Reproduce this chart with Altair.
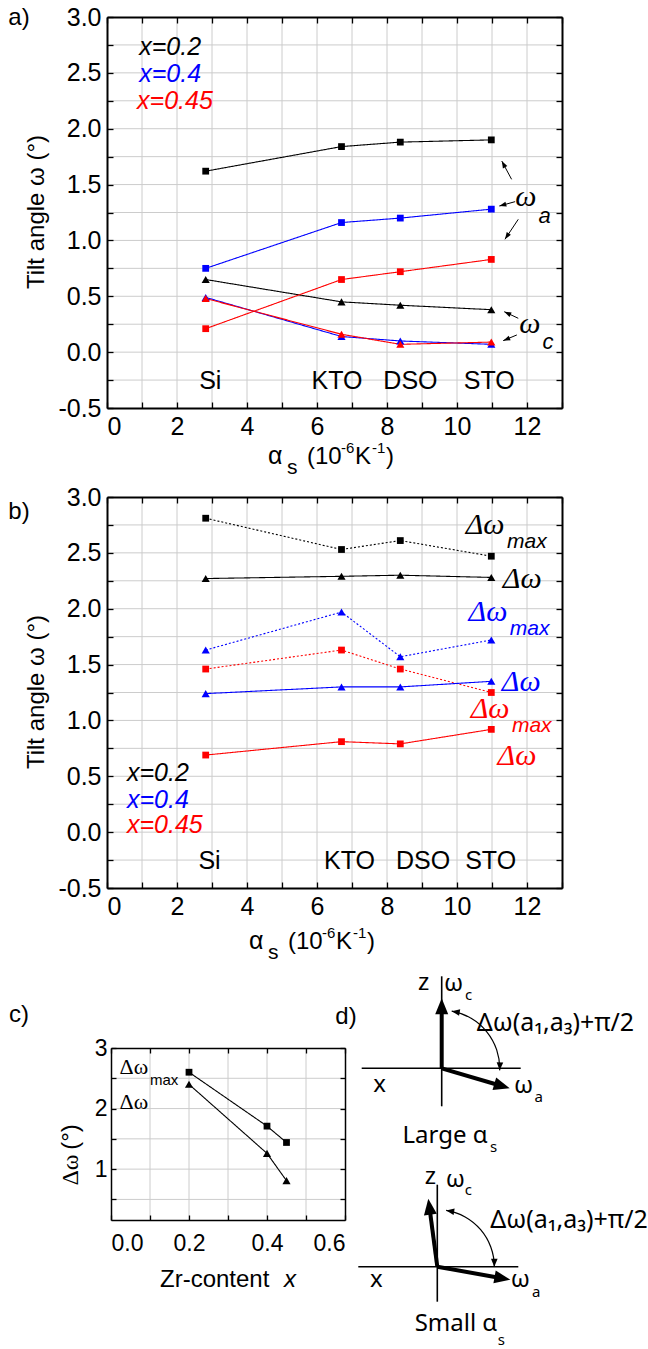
import math
import altair as alt
import pandas as pd

W, H = 648, 1349

# ---------------- data ----------------
substrates = ["Si", "KTO", "DSO", "STO"]
alpha_s = [2.82, 6.70, 8.38, 10.98]
compositions = ["x=0.2", "x=0.4", "x=0.45"]
comp_colors = ["#000000", "#0000ff", "#ff0000"]

# (a) tilt angles omega_a (squares) and omega_c (triangles)
omega_a_020 = [1.62, 1.84, 1.88, 1.90]
omega_a_040 = [0.75, 1.16, 1.20, 1.28]
omega_a_045 = [0.21, 0.65, 0.72, 0.83]
omega_c_020 = [0.65, 0.45, 0.42, 0.38]
omega_c_040 = [0.49, 0.14, 0.10, 0.07]
omega_c_045 = [0.48, 0.16, 0.07, 0.09]

# (b) delta omega max (dotted) and delta omega (solid)
dwmax_020 = [2.81, 2.53, 2.61, 2.47]
dw_020 = [2.27, 2.29, 2.30, 2.28]
dwmax_040 = [1.63, 1.97, 1.57, 1.72]
dw_040 = [1.24, 1.30, 1.30, 1.35]
dwmax_045 = [1.46, 1.63, 1.46, 1.25]
dw_045 = [0.69, 0.81, 0.79, 0.92]
b_marker_dwmax = ["square", "triangle-up", "square"]
b_marker_dw = ["triangle-up", "triangle-up", "square"]

# (c) delta omega vs Zr content
zr_content = [0.2, 0.4, 0.45]
dwmax_vs_zr = [2.60, 1.71, 1.44]
dw_vs_zr = [2.40, 1.26, 0.81]

# tick values
ab_xticks = [0, 1, 2, 3, 4, 5, 6, 7, 8, 9, 10, 11, 12, 13]
ab_yticks = [-0.5, -0.25, 0.0, 0.25, 0.5, 0.75, 1.0, 1.25, 1.5, 1.75, 2.0, 2.25, 2.5, 2.75, 3.0]
c_xticks = [0.0, 0.1, 0.2, 0.3, 0.4, 0.5, 0.6]
c_yticks = [0.5, 1.0, 1.5, 2.0, 2.5, 3.0]

# ---------------- layout / style ----------------
BOX_A = dict(x0=107, x1=562, yt=17, yb=408)
BOX_B = dict(x0=107, x1=562, yt=497, yb=888)
BOX_C = dict(x0=111, x1=345, yt=1048, yb=1220)
ORIGIN_D1 = (441.7, 1068.3)
ORIGIN_D2 = (437.3, 1266.7)

SANS = "Liberation Sans"
NARROW = "Liberation Sans Narrow, Arial Narrow, Liberation Sans"
SERIF = "Liberation Serif"
DSANS = "Noto Sans"
GRID = "#cccccc"
MINUS = "\u2212"

HEAD_SMALL = "M0,0L0.25,0.7L-0.25,0.7Z"
HEAD_BIG = "M0,0L0.65,1.6L-0.65,1.6Z"
HEAD_ARC = "M0,0L0.33,0.8L-0.33,0.8Z"


def scale(dom, rng):
    return alt.Scale(domain=dom, range=rng, nice=False, zero=False)


def frame(xs, ys, box, xvals, yvals, xexpr, yexpr, xfmt, yfmt, lsize, xpad, ypad, tick, fw):
    dummy = pd.DataFrame({"u": [xvals[0]], "v": [yvals[0]]})
    base = alt.Chart(dummy).mark_point(opacity=0)
    ax = dict(domainColor="black", domainWidth=fw, tickColor="black", tickWidth=1.3,
              labelFont=NARROW, labelFontSize=lsize, labelColor="black", title=None,
              grid=False, zindex=1)
    l1 = base.encode(
        x=alt.X("u:Q", scale=xs, axis=alt.Axis(
            orient="bottom", offset=box["yb"] - H, values=xvals, ticks=False, tickSize=0,
            domain=True, labels=True, labelExpr=xexpr, format=xfmt, labelPadding=xpad, **ax)),
        y=alt.Y("v:Q", scale=ys, axis=alt.Axis(
            orient="left", offset=-box["x0"], values=yvals, ticks=False, tickSize=0,
            domain=True, labels=True, labelExpr=yexpr, format=yfmt, labelPadding=ypad, **ax)),
    )
    l2 = base.encode(
        x=alt.X("u:Q", scale=xs, axis=alt.Axis(
            orient="top", offset=-box["yb"], values=xvals, ticks=True,
            tickSize=tick, domain=False, labels=False, **ax)),
        y=alt.Y("v:Q", scale=ys, axis=alt.Axis(
            orient="right", offset=box["x0"] - W, values=yvals, ticks=True,
            tickSize=tick, domain=False, labels=False, **ax)),
    )
    l3 = base.encode(
        x=alt.X("u:Q", scale=xs, axis=alt.Axis(
            orient="bottom", offset=box["yt"] - H, values=xvals, ticks=True,
            tickSize=tick, domain=True, labels=False, **ax)),
        y=alt.Y("v:Q", scale=ys, axis=alt.Axis(
            orient="left", offset=-box["x1"], values=yvals, ticks=True,
            tickSize=tick, domain=True, labels=False, **ax)),
    )
    return [l1, l2, l3]


def grid(xs, ys, xvals, yvals, xdom, ydom):
    vdf = pd.DataFrame({"g": xvals, "a": ydom[0], "b": ydom[1]})
    hdf = pd.DataFrame({"g": yvals, "a": xdom[0], "b": xdom[1]})
    v = alt.Chart(vdf).mark_rule(color=GRID, strokeWidth=1).encode(
        x=alt.X("g:Q", scale=xs, axis=None), y=alt.Y("a:Q", scale=ys, axis=None), y2="b:Q")
    h = alt.Chart(hdf).mark_rule(color=GRID, strokeWidth=1).encode(
        y=alt.Y("g:Q", scale=ys, axis=None), x=alt.X("a:Q", scale=xs, axis=None), x2="b:Q")
    return [v, h]


def dtext(rows, xs, ys, **mk):
    df = pd.DataFrame(rows, columns=["x", "y", "t"])
    return alt.Chart(df).mark_text(**mk).encode(
        x=alt.X("x:Q", scale=xs, axis=None), y=alt.Y("y:Q", scale=ys, axis=None), text="t:N")


def ptext(t, x, y, **mk):
    return alt.Chart(pd.DataFrame({"t": [t]})).mark_text(**mk).encode(
        x=alt.value(x), y=alt.value(y), text="t:N")


def arrows(rows, xs, ys, kx, ky, path, size, color, width, shorten=0.0):
    recs = []
    for (x0, y0, x1, y1) in rows:
        dxp = (x1 - x0) * kx
        dyp = -(y1 - y0) * ky
        L = math.hypot(dxp, dyp)
        f = (L - shorten) / L
        recs.append(dict(x0=x0, y0=y0, xe=x0 + (x1 - x0) * f, ye=y0 + (y1 - y0) * f,
                         x1=x1, y1=y1, ang=math.degrees(math.atan2(dxp, -dyp)) % 360))
    df = pd.DataFrame(recs)
    shaft = alt.Chart(df).mark_rule(color=color, strokeWidth=width).encode(
        x=alt.X("x0:Q", scale=xs, axis=None), y=alt.Y("y0:Q", scale=ys, axis=None),
        x2="xe:Q", y2="ye:Q")
    head = alt.Chart(df).mark_point(shape=path, size=size, filled=True, color=color,
                                    opacity=1, strokeWidth=0).encode(
        x=alt.X("x1:Q", scale=xs, axis=None), y=alt.Y("y1:Q", scale=ys, axis=None),
        angle=alt.Angle("ang:Q", scale=None))
    return [shaft, head]


def series_df(xvals, yvals, key, color, shape):
    return pd.DataFrame({"x": xvals, "y": yvals, "series": key, "color": color, "shape": shape})


MARKER_SIZE = alt.Size("shape:N", scale=alt.Scale(domain=["square", "triangle-up"],
                                                  range=[46, 66]), legend=None)


def lines_points(df, xs, ys, dash=None):
    ln = alt.Chart(df).mark_line(strokeWidth=1.1, strokeDash=dash if dash else [1, 0]).encode(
        x=alt.X("x:Q", scale=xs, axis=None), y=alt.Y("y:Q", scale=ys, axis=None),
        detail="series:N", color=alt.Color("color:N", scale=None))
    pt = alt.Chart(df).mark_point(filled=True, opacity=1, strokeWidth=0).encode(
        x=alt.X("x:Q", scale=xs, axis=None), y=alt.Y("y:Q", scale=ys, axis=None),
        color=alt.Color("color:N", scale=None), shape=alt.Shape("shape:N", scale=None),
        size=MARKER_SIZE)
    return [ln, pt]


AB_XEXPR = "datum.value % 2 == 0 ? datum.label : ''"
AB_YEXPR = "(datum.value * 4) % 2 == 0 ? replace(datum.label, '" + MINUS + "', '-') : ''"

layers = []

# ================= panel (a) =================
xsA = scale([0, 13], [BOX_A["x0"], BOX_A["x1"]])
ysA = scale([-0.5, 3.0], [BOX_A["yb"], BOX_A["yt"]])
layers += grid(xsA, ysA, ab_xticks[1:-1], ab_yticks[1:-1], [0, 13], [-0.5, 3.0])
layers += frame(xsA, ysA, BOX_A, ab_xticks, ab_yticks, AB_XEXPR, AB_YEXPR,
                "d", ".1f", 25, 6, 6, 6, 2)
dfA = pd.concat([
    series_df(alpha_s, v, "a" + c, col, shp)
    for v, c, col, shp in [
        (omega_a_020, compositions[0], comp_colors[0], "square"),
        (omega_c_020, compositions[0] + "c", comp_colors[0], "triangle-up"),
        (omega_a_040, compositions[1], comp_colors[1], "square"),
        (omega_c_040, compositions[1] + "c", comp_colors[1], "triangle-up"),
        (omega_a_045, compositions[2], comp_colors[2], "square"),
        (omega_c_045, compositions[2] + "c", comp_colors[2], "triangle-up"),
    ]
])
layers += lines_points(dfA, xsA, ysA)

labA_x = [2.95, 6.57, 8.67, 10.92]
layers.append(dtext([(x, -0.26, s) for x, s in zip(labA_x, substrates)], xsA, ysA,
                    font=SANS, fontSize=25, align="center", baseline="middle", color="black"))
legA_pos = [(0.92, 2.73), (0.92, 2.49), (0.86, 2.25)]
for (x, y), t, col in zip(legA_pos, compositions, comp_colors):
    layers.append(dtext([(x, y, t)], xsA, ysA, font=SANS, fontSize=25, fontStyle="italic",
                        align="left", baseline="middle", color=col))
layers.append(dtext([(11.97, 1.39, "ω"), (12.08, 0.25, "ω")], xsA, ysA, font=SERIF,
                    fontSize=30, fontStyle="italic", align="center", baseline="middle", color="black"))
layers.append(dtext([(12.5, 1.22, "a"), (12.6, 0.09, "c")], xsA, ysA, font=SANS,
                    fontSize=22, fontStyle="italic", align="center", baseline="middle", color="black"))
arrowsA = [(11.56, 1.547, 11.28, 1.71), (11.66, 1.347, 11.21, 1.308),
           (11.75, 1.189, 11.37, 1.01), (11.75, 0.303, 11.35, 0.362),
           (11.71, 0.154, 11.32, 0.103)]
layers += arrows(arrowsA, xsA, ysA, 35.0, 111.7, HEAD_SMALL, 400, "black", 1)
layers.append(ptext("a)", 19, 18, font=SANS, fontSize=24, align="center", baseline="middle"))
layers.append(ptext("Tilt angle ω (°)", 37, 212, font=SANS, fontSize=24, angle=270,
                    align="center", baseline="middle"))

# x title pieces (text, dx from left, dy from baseline, size)
xtitle_parts = [("α", 0, 0, 25), ("s", 19, 10, 21), ("(10", 39, 0, 24), ("-6", 73, -11, 15),
                ("K", 87, 0, 24), ("-1", 104, -11, 15), (")", 118, 0, 24)]


def xtitle(x0, base):
    out = []
    for t, dx, dy, sz in xtitle_parts:
        out.append(ptext(t, x0 + dx, base + dy, font=SANS, fontSize=sz, align="left",
                         baseline="alphabetic"))
    return out


layers += xtitle(268, 464)

# ================= panel (b) =================
xsB = scale([0, 13], [BOX_B["x0"], BOX_B["x1"]])
ysB = scale([-0.5, 3.0], [BOX_B["yb"], BOX_B["yt"]])
layers += grid(xsB, ysB, ab_xticks[1:-1], ab_yticks[1:-1], [0, 13], [-0.5, 3.0])
layers += frame(xsB, ysB, BOX_B, ab_xticks, ab_yticks, AB_XEXPR, AB_YEXPR,
                "d", ".1f", 25, 6, 6, 6, 2)
dfBmax = pd.concat([
    series_df(alpha_s, v, "m" + c, col, shp)
    for v, c, col, shp in zip([dwmax_020, dwmax_040, dwmax_045], compositions, comp_colors, b_marker_dwmax)
])
dfBdw = pd.concat([
    series_df(alpha_s, v, "d" + c, col, shp)
    for v, c, col, shp in zip([dw_020, dw_040, dw_045], compositions, comp_colors, b_marker_dw)
])
layers += lines_points(dfBmax, xsB, ysB, dash=[2, 2])
layers += lines_points(dfBdw, xsB, ysB)

labB_x = [2.93, 6.93, 9.03, 10.96]
layers.append(dtext([(x, -0.26, s) for x, s in zip(labB_x, substrates)], xsB, ysB,
                    font=SANS, fontSize=25, align="center", baseline="middle", color="black"))
legB_pos = [(0.57, 0.53), (0.57, 0.29), (0.57, 0.06)]
for (x, y), t, col in zip(legB_pos, compositions, comp_colors):
    layers.append(dtext([(x, y, t)], xsB, ysB, font=SANS, fontSize=25, fontStyle="italic",
                        align="left", baseline="middle", color=col))
# delta-omega labels: (x, y) of "Δω", of its "max" subscript, and of the plain "Δω"
dw_lab = [(10.25, 2.75, 11.43, 2.60, 11.31, 2.27),
          (10.33, 1.97, 11.51, 1.82, 11.28, 1.34),
          (10.39, 1.10, 11.57, 0.95, 11.16, 0.68)]
for (mx, my, sx, sy, dx, dy), col in zip(dw_lab, comp_colors):
    layers.append(dtext([(mx, my, "Δω"), (dx, dy, "Δω")], xsB, ysB, font=SERIF, fontSize=30,
                        fontStyle="italic", align="left", baseline="middle", color=col))
    layers.append(dtext([(sx, sy, "max")], xsB, ysB, font=SANS, fontSize=21,
                        fontStyle="italic", align="left", baseline="middle", color=col))
layers.append(ptext("b)", 19, 512, font=SANS, fontSize=24, align="center", baseline="middle"))
layers.append(ptext("Tilt angle ω (°)", 37, 692, font=SANS, fontSize=24, angle=270,
                    align="center", baseline="middle"))
layers += xtitle(249, 949)

# ================= panel (c) =================
xsC = scale([0, 0.6], [BOX_C["x0"], BOX_C["x1"]])
ysC = scale([0.16, 3.0], [BOX_C["yb"], BOX_C["yt"]])
layers += grid(xsC, ysC, c_xticks[1:-1], c_yticks[:-1], [0, 0.6], [0.16, 3.0])
layers += frame(xsC, ysC, BOX_C, c_xticks, c_yticks,
                "round(datum.value * 10) % 2 == 0 ? datum.label : ''",
                "datum.value % 1 == 0 ? datum.label : ''",
                ".1f", ".0f", 23, 12, 4, 5, 1.5)
dfC = pd.concat([
    series_df(zr_content, dwmax_vs_zr, "cmax", "#000000", "square"),
    series_df(zr_content, dw_vs_zr, "cdw", "#000000", "triangle-up"),
])
layers += lines_points(dfC, xsC, ysC)
layers.append(dtext([(0.022, 2.69, "Δω"), (0.022, 2.11, "Δω")], xsC, ysC, font=SERIF,
                    fontSize=22, align="left", baseline="middle", color="black"))
layers.append(dtext([(0.1, 2.47, "max")], xsC, ysC, font=SANS, fontSize=15,
                    align="left", baseline="middle", color="black"))
layers.append(ptext("c)", 19, 1015, font=SANS, fontSize=24, align="center", baseline="middle"))
layers.append(ptext("Δω", 71, 1170, font=SERIF, fontSize=24, angle=270, align="center",
                    baseline="middle"))
layers.append(ptext("(°)", 71, 1137, font=SANS, fontSize=24, angle=270, align="center",
                    baseline="middle"))
layers.append(ptext("Zr-content", 160, 1280, font=SANS, fontSize=24, align="left",
                    baseline="middle"))
layers.append(ptext("x", 284, 1280, font=SANS, fontSize=24, fontStyle="italic", align="left",
                    baseline="middle"))

# ================= panel (d): schematic diagrams =================
# coordinates are pixel offsets from each diagram's origin (x right, z up)
d1_axes = [(-80, 0, 79, 0), (0, -38, 0, 92)]
d1_vectors = [(0, 0, 0, 70), (0, 0, 68, -20)]
d1_arc = (58, 10, 92)
d2_axes = [(-79, 0, 81, 0), (0, -35, 0, 82)]
d2_vectors = [(0, 0, -9, 68), (0, 0, 73, -13)]
d2_arc = (57, 9, 90)


def diagram(origin, axes_lines, vectors, arc, texts):
    ox, oy = origin
    xs = scale([0, 100], [ox, ox + 100])
    ys = scale([0, 100], [oy, oy - 100])
    out = []
    dfax = pd.DataFrame(axes_lines, columns=["x0", "y0", "x1", "y1"])
    out.append(alt.Chart(dfax).mark_rule(color="black", strokeWidth=1.6).encode(
        x=alt.X("x0:Q", scale=xs, axis=None), y=alt.Y("y0:Q", scale=ys, axis=None),
        x2="x1:Q", y2="y1:Q"))
    out += arrows(vectors, xs, ys, 1, 1, HEAD_BIG, 400, "black", 4, shorten=10)
    r, t0, t1 = arc
    out.append(alt.Chart(pd.DataFrame({"cx": [0], "cy": [0]})).mark_arc(
        radius=r + 0.6, radius2=r - 0.6, theta=math.radians(t0), theta2=math.radians(t1),
        color="black").encode(x=alt.X("cx:Q", scale=xs, axis=None),
                              y=alt.Y("cy:Q", scale=ys, axis=None)))
    heads = []
    for t, sgn in [(t0, -1), (t1, 1)]:
        a = math.radians(t)
        px, pz = r * math.sin(a), r * math.cos(a)
        ddx, ddz = sgn * math.cos(a), -sgn * math.sin(a)
        heads.append((px - ddx, pz - ddz, px, pz))
    out += arrows(heads, xs, ys, 1, 1, HEAD_ARC, 400, "black", 0.5)
    for (t, x, y, sz, font, align) in texts:
        out.append(dtext([(x, y, t)], xs, ys, font=font, fontSize=sz, align=align,
                         baseline="middle", color="black"))
    return out


d1_texts = [("z", -18, 85, 24, DSANS, "center"), ("ω", 12, 84, 24, DSANS, "center"),
            ("c", 27, 73, 15, DSANS, "center"), ("x", -62, -17, 24, DSANS, "center"),
            ("ω", 82, -18, 24, DSANS, "center"), ("a", 97, -29, 15, DSANS, "center"),
            ("Δω(a₁,a₃)+π/2", 35, 45, 25, DSANS, "left"),
            ("Large α", 46, -68, 24, DSANS, "right"), ("s", 52, -79, 15, DSANS, "center")]
d2_texts = [("z", -7, 90, 24, DSANS, "center"), ("ω", 18, 87, 24, DSANS, "center"),
            ("c", 31, 77, 15, DSANS, "center"), ("x", -61, -13, 24, DSANS, "center"),
            ("ω", 83, -13, 24, DSANS, "center"), ("a", 99, -25, 15, DSANS, "center"),
            ("Δω(a₁,a₃)+π/2", 53, 47, 25, DSANS, "left"),
            ("Small α", 60, -57, 24, DSANS, "right"), ("s", 64, -73, 15, DSANS, "center")]
layers += diagram(ORIGIN_D1, d1_axes, d1_vectors, d1_arc, d1_texts)
layers += diagram(ORIGIN_D2, d2_axes, d2_vectors, d2_arc, d2_texts)
layers.append(ptext("d)", 346, 1017, font=SANS, fontSize=24, align="center", baseline="middle"))

chart = alt.layer(*layers).resolve_scale(
    x="independent", y="independent"
).resolve_axis(
    x="independent", y="independent"
).properties(
    width=W, height=H, padding=0, autosize=alt.AutoSizeParams(type="none"),
    background="white"
).configure_view(stroke=None)

chart.save("out.html", embed_options={"renderer": "svg", "actions": False})
